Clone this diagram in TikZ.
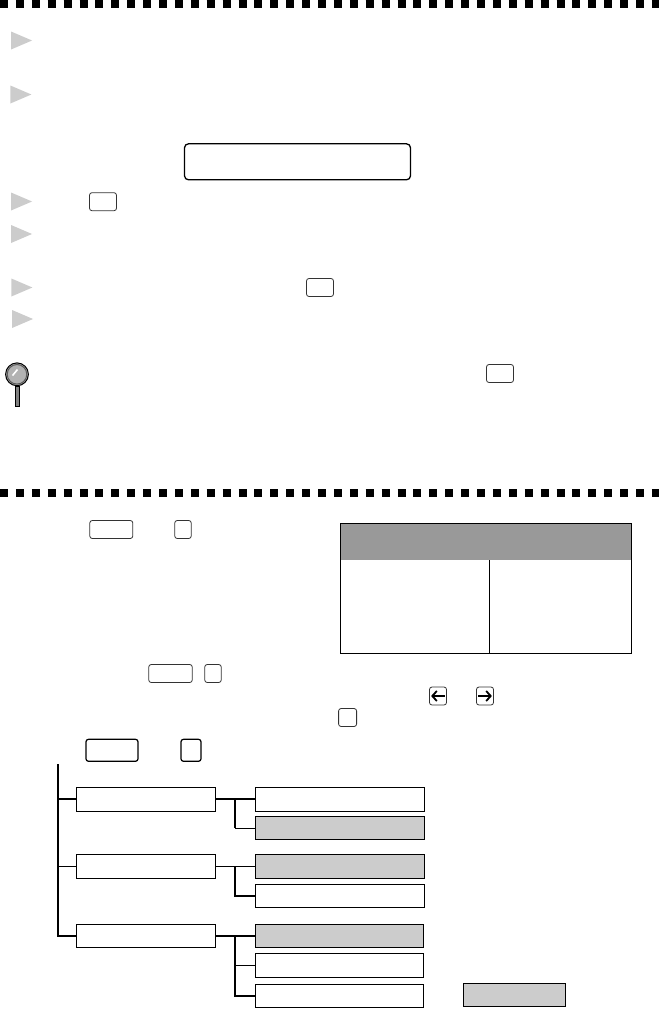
\documentclass[tikz,border=0pt]{standalone}
\usepackage{xcolor}
\usepackage{tikz}
\usetikzlibrary{shapes.geometric, arrows.meta}

\begin{document}
\begin{tikzpicture}[x=1pt, y=-1pt, node distance=29pt]
	\definecolor{lightgray}{RGB}{204,204,204}
	\definecolor{headgray}{RGB}{153,153,153}
	\tikzstyle{band} = [line width=8pt, dash pattern=on 8pt off 7.9pt]
	\tikzstyle{bullet} = [isosceles triangle, isosceles triangle stretches, shape border rotate=0, minimum width=18pt, minimum height=21pt, inner sep=0pt, fill=lightgray]
	\tikzstyle{key} = [rectangle, rounded corners=2.5pt, minimum width=27pt, minimum height=18pt, inner sep=0pt, draw=black!80, line width=0.8pt]
	\tikzstyle{bigkey} = [key, minimum width=52pt, minimum height=22pt, line width=1.2pt, draw=black]
	\tikzstyle{func} = [rectangle, minimum width=139pt, minimum height=23.5pt, inner sep=0pt, draw=black, line width=0.9pt]
	\tikzstyle{sub} = [func, minimum width=169pt]
	\tikzstyle{subon} = [sub, fill=lightgray]
	\tikzstyle{thickline} = [line width=2pt]
	\tikzstyle{thinline} = [line width=0.8pt]
	\tikzstyle{keyarrow} = [line width=1.8pt, -{Straight Barb[length=4.5pt, width=10pt]}]

	\useasboundingbox (0,0) rectangle (659,1009);

	\draw [band] (0,3.6) -- (659,3.6);
	\draw [band] (0,493) -- (659,493);

	% step markers
	\node (bullet1) [bullet] at (17,40.5) {};
	\node (bullet2) [bullet] at (16.3,94.5) {};
	\node (bullet3) [bullet] at (17,201.5) {};
	\node (bullet4) [bullet] at (17,234) {};
	\node (bullet5) [bullet] at (17.3,287.5) {};
	\node (bullet6) [bullet] at (18,319) {};

	\node (display) [key, minimum width=226pt, minimum height=36pt, rounded corners=4pt, line width=1.3pt, draw=black] at (297.5,161.8) {};
	\node (keyA) [key] at (103,201.7) {};
	\node (keyB) [key] at (320,287.5) {};
	\node (keyC) [key] at (500,373.5) {};
	\node (menuA) [key, minimum width=43pt] at (111.3,529.5) {};
	\node (digitA) [key, minimum width=16.5pt] at (183,529.5) {};
	\node (menuB) [key, minimum width=43.5pt] at (170.5,673.5) {};
	\node (digitB) [key, minimum width=16.5pt] at (213,673.5) {};
	\node (leftkey) [key, minimum width=17pt] at (438,696) {};
	\node (rightkey) [key, minimum width=17pt] at (485,696) {};
	\node (setkey) [key, minimum width=18pt] at (347.6,717.5) {};
	\node (menuC) [bigkey] at (112,750.3) {};
	\node (digitC) [bigkey, minimum width=20pt] at (191,750.3) {};

	\draw [keyarrow] ([xshift=-2pt]leftkey.east) -- ([xshift=2pt]leftkey.west);
	\draw [keyarrow] ([xshift=2pt]rightkey.west) -- ([xshift=-2pt]rightkey.east);

	% magnifier
	\node (handle) [rectangle, minimum width=4pt, minimum height=20pt, inner sep=0pt, draw=black, fill=black!50, line width=0.8pt] at (16.9,396) {};
	\node (lens) [circle, minimum size=22.8pt, inner sep=0pt, draw=black, fill=black!30, line width=1pt] at (17,374.3) {};
	\draw [black!65, line width=1pt] (lens.center) circle (9.8pt);
	\draw [white, line width=1.6pt] (12.5,375.5) -- (17.5,369.5);

	% table
	\node (tablehead) [rectangle, minimum width=291pt, minimum height=36.5pt, inner sep=0pt, fill=headgray] at (486,541.8) {};
	\node (tableframe) [rectangle, minimum width=291pt, minimum height=130pt, inner sep=0pt, draw=black, line width=0.9pt] at (486,588.8) {};
	\draw [line width=0.9pt] ([xshift=3.4pt]tablehead.south) -- ([xshift=3.4pt]tableframe.south);

	% menu tree
	\node (func1) [func, minimum height=24pt] at (146,799) {};
	\node (func2) [func, below of=func1, yshift=-38.5pt] {};
	\node (func3) [func, below of=func2, yshift=-40.5pt, minimum height=22.5pt] {};
	\node (sub1) [sub, right of=func1, xshift=165pt, minimum height=24pt] {};
	\node (sub2) [subon, below of=sub1] {};
	\node (sub3) [subon, right of=func2, xshift=165pt] {};
	\node (sub4) [sub, below of=sub3, yshift=-0.5pt] {};
	\node (sub5) [subon, right of=func3, xshift=164.5pt, minimum width=168pt, minimum height=22.5pt] {};
	\node (sub6) [sub, below of=sub5, yshift=-0.5pt, minimum width=168pt] {};
	\node (sub7) [sub, below of=sub6, yshift=-1.5pt, minimum width=168pt] {};
	\node (selected) [subon, right of=sub7, minimum width=102pt, xshift=146pt, yshift=1pt] {};

	\coordinate (trunk) at (58,764);
	\coordinate (fork1) at (235,799);
	\coordinate (fork2) at (235,866.5);
	\coordinate (fork3) at (235,936);

	\draw [thickline] (trunk) |- (func3);
	\draw [thickline] (58,799) -- (func1);
	\draw [thinline] (58,866.5) -- (func2);

	\draw [thickline] (func1) -- (sub1);
	\draw [thickline] (fork1) -- (fork1 |- sub2);
	\draw [thinline] (fork1 |- sub2) -- (sub2);

	\draw [thinline] (func2) -- (sub3);
	\draw [thickline] (fork2) |- (sub4);

	\draw [thickline] (func3) -- (sub5);
	\draw [thickline] (fork3) |- (sub7);
	\draw [thinline] (fork3 |- sub6) -- (sub6);
\end{tikzpicture}
\end{document}
